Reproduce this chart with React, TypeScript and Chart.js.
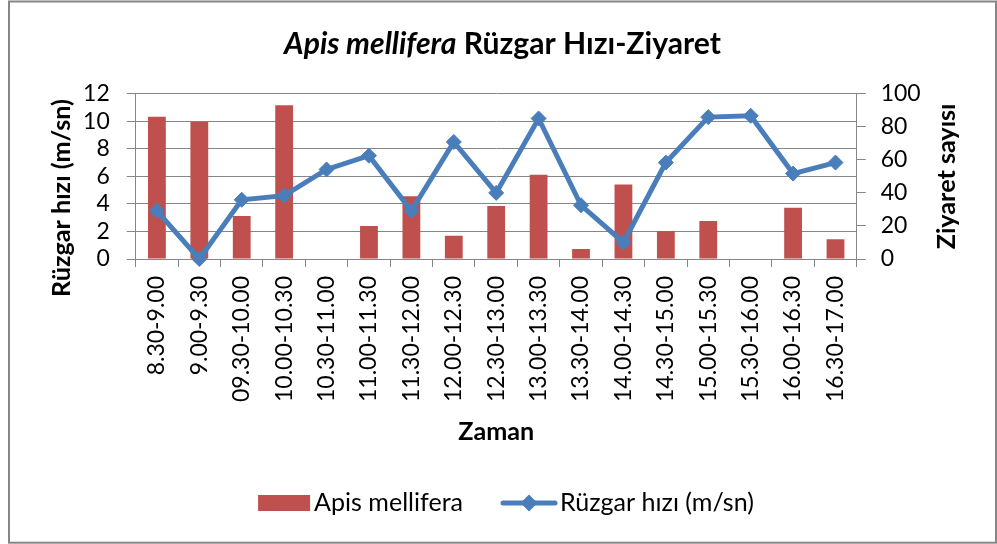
import React, { useEffect, useRef } from 'react';
import { Chart, registerables } from 'chart.js';

Chart.register(...registerables);

const categories = [
  '8.30-9.00', '9.00-9.30', '09.30-10.00', '10.00-10.30', '10.30-11.00', '11.00-11.30',
  '11.30-12.00', '12.00-12.30', '12.30-13.00', '13.00-13.30', '13.30-14.00', '14.00-14.30',
  '14.30-15.00', '15.00-15.30', '15.30-16.00', '16.00-16.30', '16.30-17.00',
];
const apisVisits = [86, 83, 26, 93, 0, 20, 38, 14, 32, 51, 6, 45, 17, 23, 0, 31, 12];
const windSpeed = [3.5, 0, 4.3, 4.6, 6.5, 7.5, 3.5, 8.5, 4.8, 10.2, 3.9, 1.2, 7.0, 10.3, 10.4, 6.2, 7.0];

const leftAxisMin = 0;
const leftAxisMax = 12;
const leftAxisStep = 2;
const rightAxisMin = 0;
const rightAxisMax = 100;
const rightAxisStep = 20;

const titleItalic = 'Apis mellifera';
const titleRest = ' Rüzgar Hızı-Ziyaret';
const xTitle = 'Zaman';
const yLeftTitle = 'Rüzgar hızı (m/sn)';
const yRightTitle = 'Ziyaret sayısı';
const barLabel = 'Apis mellifera';
const lineLabel = 'Rüzgar hızı (m/sn)';

const FAMILY = 'Lato';
const BAR_COLOR = '#C0504D';
const LINE_COLOR = '#4A7EBB';
const GRID_COLOR = '#868686';

function measure(font: string, text: string): number {
  const c = document.createElement('canvas').getContext('2d') as CanvasRenderingContext2D;
  c.font = font;
  return c.measureText(text).width;
}

export default function App() {
  const ref = useRef<HTMLCanvasElement | null>(null);

  useEffect(() => {
    if (!ref.current) return;

    const titleSize =
      (100 * 437) /
      (measure(`italic bold 100px ${FAMILY}`, titleItalic) + measure(`bold 100px ${FAMILY}`, titleRest));
    const axisTitleSize = (100 * 76) / measure(`bold 100px ${FAMILY}`, xTitle);
    const legendSize = (100 * 149) / measure(`100px ${FAMILY}`, barLabel);
    const tickSize = (100 * 40) / measure(`100px ${FAMILY}`, '100');

    const drawRotated = (ctx: CanvasRenderingContext2D, text: string, x: number, y: number) => {
      ctx.save();
      ctx.translate(x, y);
      ctx.rotate(-Math.PI / 2);
      ctx.font = `bold ${axisTitleSize}px ${FAMILY}`;
      ctx.fillStyle = '#000';
      ctx.textAlign = 'center';
      ctx.textBaseline = 'middle';
      ctx.fillText(text, 0, 0);
      ctx.restore();
    };

    const decor = {
      id: 'decor',
      beforeDraw(chart: any) {
        const ctx = chart.ctx as CanvasRenderingContext2D;
        ctx.save();
        ctx.fillStyle = '#ffffff';
        ctx.fillRect(0, 0, chart.width, chart.height);
        ctx.restore();
      },
      afterDraw(chart: any) {
        const ctx = chart.ctx as CanvasRenderingContext2D;
        const ca = chart.chartArea;
        ctx.save();
        // frame
        ctx.strokeStyle = GRID_COLOR;
        ctx.lineWidth = 2;
        ctx.strokeRect(9, 1.5, 987, 541.2);

        // title
        ctx.fillStyle = '#000';
        ctx.textBaseline = 'alphabetic';
        ctx.textAlign = 'left';
        const f1 = `italic bold ${titleSize}px ${FAMILY}`;
        const f2 = `bold ${titleSize}px ${FAMILY}`;
        ctx.font = f1;
        const w1 = ctx.measureText(titleItalic).width;
        ctx.font = f2;
        const w2 = ctx.measureText(titleRest).width;
        const tx = 502.5 - (w1 + w2) / 2;
        ctx.font = f1;
        ctx.fillText(titleItalic, tx, 54);
        ctx.font = f2;
        ctx.fillText(titleRest, tx + w1, 54);

        // axis titles (both read bottom to top)
        drawRotated(ctx, yLeftTitle, 62, 198);
        drawRotated(ctx, yRightTitle, 947, (ca.top + ca.bottom) / 2);

        // legend
        ctx.font = `${legendSize}px ${FAMILY}`;
        ctx.textBaseline = 'middle';
        ctx.textAlign = 'left';
        const lw1 = ctx.measureText(barLabel).width;
        const lw2 = ctx.measureText(lineLabel).width;
        const boxW = 52, gap1 = 4, between = 38, lineW = 56, gap2 = 3;
        const total = boxW + gap1 + lw1 + between + lineW + gap2 + lw2;
        let lx = 506 - total / 2;
        const ly = 503;
        ctx.fillStyle = BAR_COLOR;
        ctx.fillRect(lx, ly - 8, boxW, 16);
        lx += boxW + gap1;
        ctx.fillStyle = '#000';
        ctx.fillText(barLabel, lx, ly);
        lx += lw1 + between;
        ctx.strokeStyle = LINE_COLOR;
        ctx.lineWidth = 5;
        ctx.lineCap = 'round';
        ctx.beginPath();
        ctx.moveTo(lx + 2, ly);
        ctx.lineTo(lx + lineW - 2, ly);
        ctx.stroke();
        const cx = lx + lineW / 2;
        ctx.fillStyle = LINE_COLOR;
        ctx.beginPath();
        ctx.moveTo(cx - 8.5, ly);
        ctx.lineTo(cx, ly - 8.5);
        ctx.lineTo(cx + 8.5, ly);
        ctx.lineTo(cx, ly + 8.5);
        ctx.closePath();
        ctx.fill();
        lx += lineW + gap2;
        ctx.fillStyle = '#000';
        ctx.fillText(lineLabel, lx, ly);
        ctx.restore();
      },
    };

    const lh = axisTitleSize * 1.2;

    const chart = new Chart(ref.current, {
      type: 'bar',
      data: {
        labels: categories,
        datasets: [
          {
            type: 'line',
            label: lineLabel,
            data: windSpeed,
            yAxisID: 'y',
            borderColor: LINE_COLOR,
            backgroundColor: LINE_COLOR,
            borderWidth: 5,
            pointStyle: 'rectRot',
            pointRadius: 7.5,
            pointBorderWidth: 1,
            pointBackgroundColor: LINE_COLOR,
            pointBorderColor: LINE_COLOR,
            tension: 0,
            clip: false,
            order: 0,
          } as any,
          {
            type: 'bar',
            label: barLabel,
            data: apisVisits,
            yAxisID: 'y1',
            backgroundColor: BAR_COLOR,
            borderWidth: 0,
            barPercentage: 0.42,
            categoryPercentage: 1,
            order: 1,
          } as any,
        ],
      },
      options: {
        responsive: false,
        animation: false,
        devicePixelRatio: 1,
        layout: { padding: { left: 9, right: 1, top: 93.7, bottom: 85 } },
        plugins: {
          legend: { display: false },
          tooltip: { enabled: false },
          title: { display: false },
        },
        scales: {
          x: {
            type: 'category',
            offset: true,
            grid: {
              offset: true,
              drawOnChartArea: false,
              drawTicks: true,
              tickLength: 8,
              color: GRID_COLOR,
              tickColor: GRID_COLOR,
              lineWidth: 1,
            },
            border: { display: true, color: GRID_COLOR, width: 1 },
            ticks: {
              autoSkip: false,
              maxRotation: 90,
              minRotation: 90,
              padding: 9,
              color: '#000',
              font: { family: FAMILY, size: tickSize },
            },
            title: {
              display: true,
              text: xTitle,
              color: '#000',
              font: { family: FAMILY, weight: 'bold', size: axisTitleSize },
              padding: { top: 0, bottom: 27 - lh / 2 },
            },
            afterFit: (s: any) => {
              s.height = 200;
            },
          },
          y: {
            position: 'left',
            min: leftAxisMin,
            max: leftAxisMax,
            ticks: {
              stepSize: leftAxisStep,
              autoSkip: false,
              padding: 17,
              color: '#000',
              font: { family: FAMILY, size: tickSize },
            },
            grid: {
              color: GRID_COLOR,
              tickColor: GRID_COLOR,
              tickLength: 9,
              drawTicks: true,
              lineWidth: 1,
            },
            border: { display: true, color: GRID_COLOR, width: 1 },
            afterFit: (s: any) => {
              s.width = 126.7;
            },
          },
          y1: {
            position: 'right',
            min: rightAxisMin,
            max: rightAxisMax,
            ticks: {
              stepSize: rightAxisStep,
              autoSkip: false,
              padding: 15,
              color: '#000',
              font: { family: FAMILY, size: tickSize },
            },
            grid: {
              drawOnChartArea: false,
              drawTicks: true,
              tickLength: 9,
              color: GRID_COLOR,
              tickColor: GRID_COLOR,
              lineWidth: 1,
            },
            border: { display: true, color: GRID_COLOR, width: 1 },
            afterFit: (s: any) => {
              s.width = 139.3;
            },
          },
        },
      } as any,
      plugins: [decor],
    });

    return () => chart.destroy();
  }, []);

  return (
    <div style={{ position: 'absolute', left: 0, top: 0, width: 997, height: 544 }}>
      <canvas ref={ref} width={997} height={544} style={{ display: 'block', width: 997, height: 544 }} />
    </div>
  );
}
